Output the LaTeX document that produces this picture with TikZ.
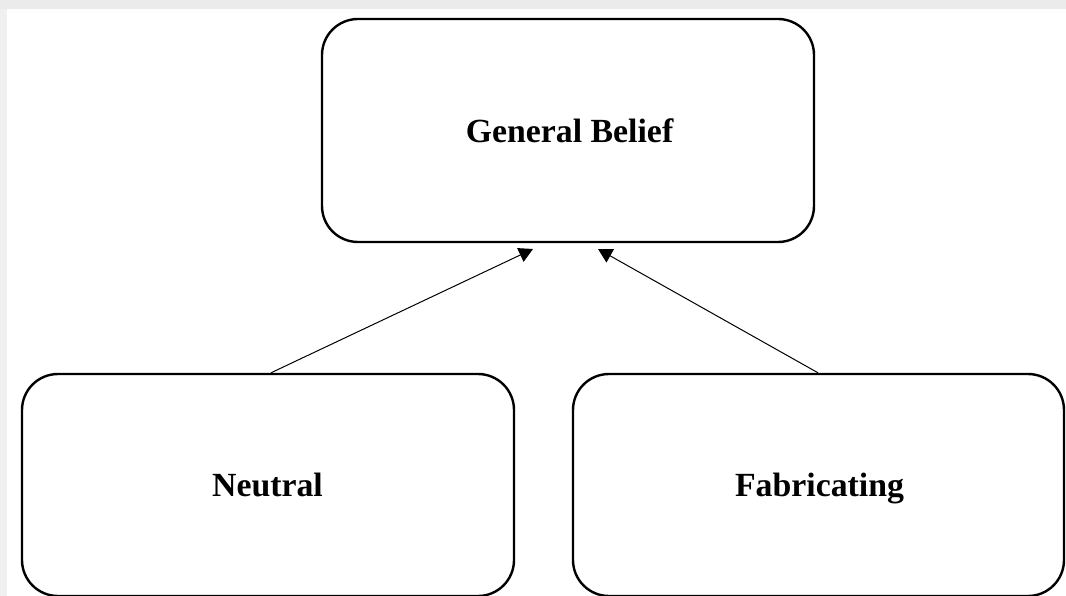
\documentclass[tikz,border=0pt]{standalone}
\usepackage{fontspec}
\setmainfont{Liberation Serif}
\usetikzlibrary{arrows.meta}
\begin{document}
\begin{tikzpicture}[x=1pt,y=-1pt,
  box/.style={draw=black,line width=2.4pt,rounded corners=36pt,fill=white,inner sep=0pt},
  lbl/.style={anchor=base,inner sep=0pt,font=\fontsize{33.8}{38}\selectfont\bfseries},
  conn/.style={line width=1pt,-{Triangle[length=14pt,width=15pt]}}]
\useasboundingbox (0,0) rectangle (1066,596);
\fill[white] (0,0) rectangle (1066,596);
\fill[black!8] (0,0) rectangle (1066,9);
\fill[black!6] (0,9) rectangle (7,596);
\node[box,minimum width=492pt,minimum height=223pt] (gb) at (568,130.5) {};
\node[box,minimum width=492pt,minimum height=222pt] (ne) at (268,485) {};
\node[box,minimum width=491pt,minimum height=222pt] (fa) at (818.5,485) {};
\node[lbl] (gbt) at (569.5,143) {General Belief};
\node[lbl] (net) at (267.5,496) {Neutral};
\node[lbl] (fat) at (819.5,496) {Fabricating};
\coordinate (ta) at (533,249);
\coordinate (tb) at (598,249);
\draw[conn] (ne.north -| 271,0) -- (ta);
\draw[conn] (fa.north -| 818,0) -- (tb);
\end{tikzpicture}
\end{document}
